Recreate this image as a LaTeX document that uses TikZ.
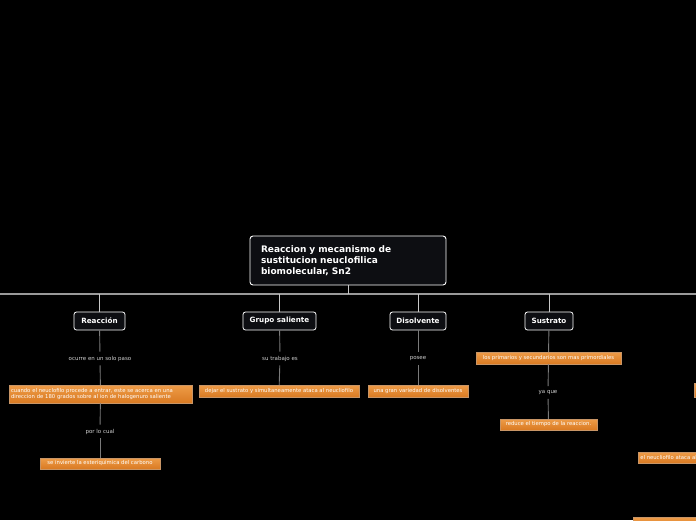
\documentclass[tikz,border=0pt]{standalone}
\usepackage{fontspec}
\setmainfont{DejaVu Sans}
\definecolor{nodebg}{HTML}{0D0E12}
\definecolor{obtop}{HTML}{EE9C48}
\definecolor{obbot}{HTML}{D97A22}
\definecolor{obord}{HTML}{C89566}
\definecolor{labgray}{HTML}{D0D0D0}
\definecolor{hline}{HTML}{9A9A9A}
\definecolor{cline}{HTML}{7A7A7A}
\definecolor{bline}{HTML}{C8C8C8}
\tikzset{
  topic/.style={draw=white, line width=0.8pt, fill=nodebg, rounded corners=2.5pt,
    text=white, font=\fontsize{7.2}{8}\selectfont\bfseries, minimum height=18pt, inner xsep=2pt},
  obox/.style={draw=obord, line width=0.5pt, top color=obtop, bottom color=obbot,
    text=white, font=\fontsize{5.3}{6}\selectfont, inner xsep=2pt, inner ysep=1pt, minimum height=12pt},
  lab/.style={text=labgray, font=\fontsize{5.5}{6}\selectfont, inner sep=4pt},
  conn/.style={draw=cline, line width=0.9pt},
  branch/.style={draw=bline, line width=0.9pt, rounded corners=2pt},
}
\begin{document}
\begin{tikzpicture}[x=1pt,y=-1pt]
\useasboundingbox (0,0) rectangle (696,520);
\fill[black] (0,0) rectangle (696,520);
\clip (0,0) rectangle (696,520);

% main topic
\node[draw=white, line width=0.9pt, fill=nodebg, rounded corners=3pt, text=white,
  font=\fontsize{9}{11}\selectfont\bfseries, text width=174pt, align=left,
  inner xsep=11pt, minimum height=49pt] (main) at (348,260.5)
  {Reaccion y mecanismo de\\sustitucion neuclofilica\\biomolecular, Sn2};

% horizontal bus
\coordinate (hl) at (0,294);
\coordinate (hr) at (696,294);
\coordinate (hm) at (348,294);
\draw[draw=hline, line width=1.5pt] (hl) -- (hr);
\draw[branch] (main.south) -- (hm);

% subtopics
\node[topic, minimum width=51pt] (r) at (99.5,321) {Reacción};
\node[topic, minimum width=73pt] (g) at (279.5,321) {Grupo saliente};
\node[topic, minimum width=56pt] (d) at (418,321) {Disolvente};
\node[topic, minimum width=48pt] (s) at (549,321) {Sustrato};

\coordinate (br) at (99.5,294);
\coordinate (bg) at (279.5,294);
\coordinate (bd) at (418,294);
\coordinate (bs) at (549,294);
\draw[branch] (br) -- (r.north);
\draw[branch] (bg) -- (g.north);
\draw[branch] (bd) -- (d.north);
\draw[branch] (bs) -- (s.north);

% Reaccion branch
\node[lab] (rl) at (100,358.5) {ocurre en un solo paso};
\node[obox, text width=179pt, align=left, minimum height=18pt, inner ysep=1.5pt,
  font=\fontsize{5.3}{6.2}\selectfont] (rb) at (100.5,394)
  {cuando el neuclofilo procede a entrar, este se acerca en una\\direccion de 180 grados sobre al ion de halogenuro saliente};
\node[lab] (rl2) at (100,431.5) {por lo cual};
\node[obox, minimum width=120pt, minimum height=11pt] (rb2) at (100,463.5)
  {se invierte la esteriquimica del carbono};
\draw[conn] (r) -- (rl);
\draw[conn] (rl) -- (rb);
\draw[conn] (rb) -- (rl2);
\draw[conn] (rl2) -- (rb2);

% Grupo saliente branch
\node[lab] (gl) at (280,358.5) {su trabajo es};
\node[obox, minimum width=160pt] (gb) at (279,391)
  {dejar el sustrato y simultaneamente ataca al neucliofilo};
\draw[conn] (g) -- (gl);
\draw[conn] (gl) -- (gb);

% Disolvente branch
\node[lab] (dl) at (418,358.5) {posee};
\node[obox, minimum width=100pt] (db) at (418,391)
  {una gran variedad de disolventes};
\draw[conn] (d) -- (dl);
\draw[conn] (dl) -- (db);

% Sustrato branch
\node[obox, minimum width=145pt] (sb) at (548.5,358)
  {los primarios y secundarios son mas primordiales};
\node[lab] (sl) at (548,392.5) {ya que};
\node[obox, minimum width=97pt, minimum height=11pt] (sb2) at (548.5,424.5)
  {reduce el tiempo de la reaccion.};
\draw[conn] (s) -- (sb);
\draw[conn] (sb) -- (sl);
\draw[conn] (sl) -- (sb2);

% partial nodes at the right edge
\node[obox, anchor=west, minimum width=30pt, minimum height=14pt] (x1) at (694,390) {};
\node[obox, anchor=west, minimum height=11pt, text width=100pt, align=left] (x2) at (638,457.5)
  {el neucliofilo ataca al carbono};
\node[obox, anchor=north west, minimum width=100pt, minimum height=12pt] (x3) at (633,517) {};
\end{tikzpicture}
\end{document}
